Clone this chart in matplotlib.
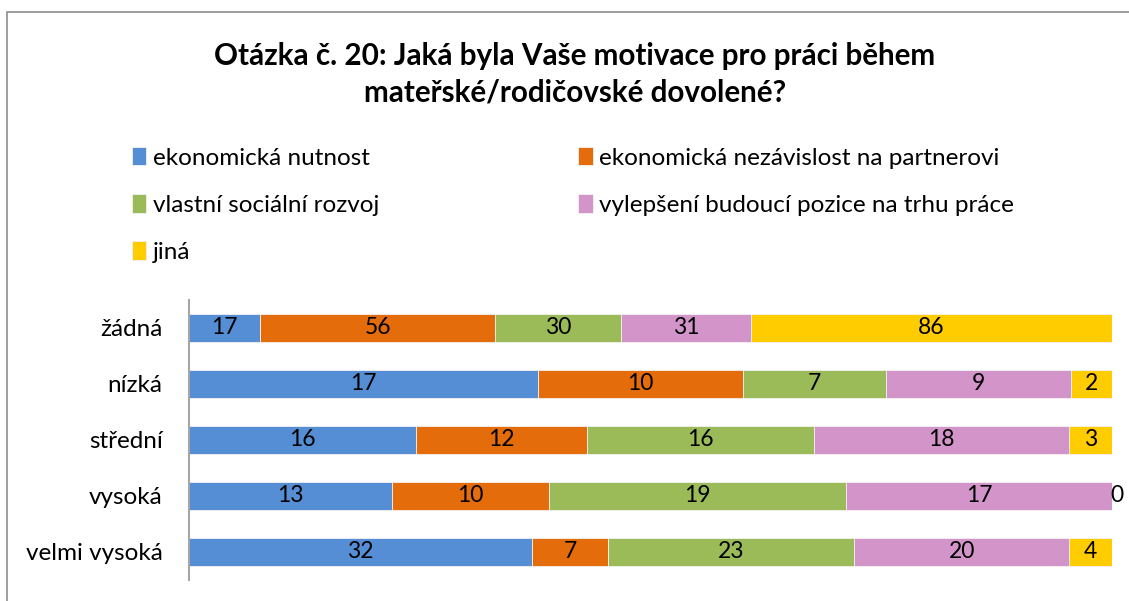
import matplotlib
matplotlib.use("Agg")
import matplotlib.pyplot as plt
from matplotlib.patches import Rectangle
import numpy as np

plt.rcParams['font.family'] = ['Lato', 'DejaVu Sans']

categories = ["žádná", "nízká", "střední", "vysoká", "velmi vysoká"]
series_names = ["ekonomická nutnost", "ekonomická nezávislost na partnerovi",
                "vlastní sociální rozvoj", "vylepšení budoucí pozice na trhu práce", "jiná"]
ekonomicka_nutnost = [17, 17, 16, 13, 32]
nezavislost = [56, 10, 12, 10, 7]
socialni_rozvoj = [30, 7, 16, 19, 23]
vylepseni = [31, 9, 18, 17, 20]
jina = [86, 2, 3, 0, 4]
colors = ["#558ED5", "#E46C0A", "#9BBB59", "#D395C9", "#FFCC00"]

W, H = 1129, 601
fig = plt.figure(figsize=(W/100, H/100), dpi=100)

# outer chart frame
fig.patches.append(Rectangle((7/W, -0.1), 1.2, 1 - 12/H + 0.1, transform=fig.transFigure,
                             fill=False, edgecolor="#8c8c8c", linewidth=1.2))

ax = fig.add_axes([189/W, 1 - 580/H, (1112 - 189)/W, 280/H])

data = np.array([ekonomicka_nutnost, nezavislost, socialni_rozvoj, vylepseni, jina], dtype=float)
totals = data.sum(axis=0)
pct = data / totals * 100
y = np.arange(len(categories))
left = np.zeros(len(categories))
handles = []
for i, name in enumerate(series_names):
    bars = ax.barh(y, pct[i], left=left, height=0.5, color=colors[i], label=name,
                   edgecolor="#f2f2f2", linewidth=0.6)
    handles.append(bars)
    for j in range(len(categories)):
        cx = left[j] + pct[i][j] / 2
        if data[i][j] == 0:
            cx += 0.5
        ax.text(cx, y[j], f"{int(data[i][j])}", ha="center", va="center",
                fontsize=16.5, color="black")
    left += pct[i]

ax.set_xlim(0, 100)
ax.set_ylim(len(categories) - 0.5, -0.5)
ax.set_yticks(y)
ax.set_yticklabels(categories, fontsize=17.5)
ax.tick_params(axis="y", length=0, pad=19)
ax.set_xticks([])
for s in ["top", "right", "bottom"]:
    ax.spines[s].set_visible(False)
ax.spines["left"].set_color("#a6a6a6")
ax.spines["left"].set_linewidth(1.5)

fig.text(575/W, 1 - 74/H, "Otázka č. 20: Jaká byla Vaše motivace pro práci během\nmateřské/rodičovské dovolené?",
         ha="center", va="center", fontsize=21.3, fontweight="bold", linespacing=1.38)

order = [0, 2, 4, 1, 3]
leg = fig.legend([handles[k] for k in order], [series_names[k] for k in order],
                 ncol=2, loc="upper left", bbox_to_anchor=(110/W, 1 - 125/H),
                 frameon=False, fontsize=17.5, handlelength=0.6, handleheight=0.8,
                 handletextpad=0.25, labelspacing=1.05, columnspacing=8.2)

fig.savefig("out.png", dpi=100)
